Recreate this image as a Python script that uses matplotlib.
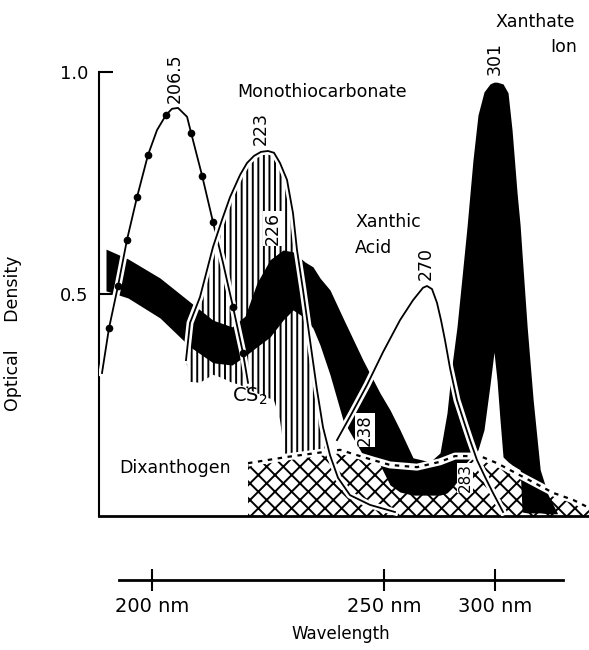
import numpy as np
import matplotlib
matplotlib.use('Agg')
import matplotlib.pyplot as plt
import matplotlib.patheffects as pe

# hand-drawn wavelength axis: nm -> position along the drawing (not linear)
scale_nm = [180, 206.5, 223, 226, 238, 250, 270, 283, 301, 350]
scale_pos = [72, 178, 261, 280, 360, 384, 427, 463, 497, 590]

# CS2 (dotted curve, max 206.5 nm)
cs2_nm = [187.5, 189.25, 191.5, 193.75, 196.25, 199.0, 201.25, 203.5, 205.0, 206.5,
          208.3, 209.1, 211.3, 213.46, 215.45, 217.43, 219.42, 220.42]
cs2_od = [0.322, 0.423, 0.518, 0.622, 0.718, 0.813, 0.869, 0.903, 0.917, 0.919,
          0.899, 0.863, 0.766, 0.662, 0.570, 0.471, 0.367, 0.300]
cs2_dots = [1, 2, 3, 4, 5, 7, 11, 12, 13, 15, 16]

# monothiocarbonate (hatched, max 223 nm)
mono_nm = [208.09, 208.89, 210.87, 213.46, 215.25, 216.84, 218.83, 220.22, 221.61, 223.0,
           224.1, 225.05, 226.0, 227.05, 227.95, 228.55, 229.45, 230.5, 231.55, 232.45,
           233.5, 234.7, 236.5, 243.0, 255.1]
mono_od = [0.351, 0.435, 0.493, 0.606, 0.667, 0.718, 0.768, 0.795, 0.811, 0.820,
           0.822, 0.818, 0.795, 0.757, 0.682, 0.599, 0.509, 0.396, 0.284, 0.200,
           0.137, 0.086, 0.047, 0.025, 0.009]
mono_floor = [0.351, 0.302, 0.300, 0.318, 0.311, 0.302, 0.295, 0.288, 0.279, 0.273,
              0.266, 0.261, 0.216, 0.104, 0.0, 0.0, 0.0, 0.0, 0.0, 0.0,
              0.0, 0.086, 0.047, 0.025, 0.009]

# black band: 226 nm band running into the xanthate ion peak at 301 nm
band_nm = [188.5, 194.0, 202.0, 208.89, 213.46, 217.24, 219.82, 222.2, 224.42, 226.45,
           227.95, 229.75, 230.95, 232.0, 233.5, 235.45, 239.5, 248.0, 252.79, 257.44,
           263.49, 271.08, 274.69, 277.22, 279.03, 280.83, 282.64, 285.12, 288.29, 290.94,
           294.12, 297.29, 299.41, 301.0, 302.59, 304.18, 306.82, 308.94, 311.59, 313.18,
           314.24, 316.89, 320.06, 323.77, 328.0, 332.77]
band_top = [0.601, 0.579, 0.536, 0.482, 0.441, 0.426, 0.450, 0.525, 0.577, 0.599,
            0.595, 0.572, 0.561, 0.536, 0.509, 0.446, 0.351, 0.277, 0.239, 0.194,
            0.131, 0.122, 0.142, 0.232, 0.340, 0.426, 0.538, 0.651, 0.802, 0.903,
            0.955, 0.973, 0.977, 0.977, 0.975, 0.973, 0.953, 0.869, 0.727, 0.655,
            0.588, 0.426, 0.261, 0.104, 0.047, 0.007]
band_bot = [0.507, 0.491, 0.446, 0.381, 0.345, 0.340, 0.360, 0.381, 0.403, 0.441,
            0.464, 0.446, 0.423, 0.385, 0.318, 0.216, 0.137, 0.115, 0.070, 0.054,
            0.047, 0.047, 0.047, 0.052, 0.063, 0.077, 0.104, 0.122, 0.137, 0.149,
            0.194, 0.295, 0.369, 0.306, 0.216, 0.133, 0.122, 0.115, 0.108, 0.104,
            0.009, 0.007, 0.007, 0.007, 0.005, 0.005]

# xanthic acid (max 270 nm)
xa_nm = [234.55, 236.8, 241.5, 249.5, 257.44, 263.49, 268.14, 270.0, 271.81, 273.61,
         275.06, 276.5, 278.31, 280.83, 284.06, 286.71, 290.41, 294.65, 298.88, 304.18]
xa_od = [0.171, 0.232, 0.295, 0.369, 0.441, 0.486, 0.514, 0.518, 0.511, 0.480,
         0.441, 0.396, 0.333, 0.261, 0.205, 0.171, 0.126, 0.088, 0.052, 0.009]

# dixanthogen (cross-hatched)
dix_nm = [220.42, 227.05, 231.55, 235.0, 237.55, 244.5, 252.79, 265.35, 274.69, 280.11,
          292.0, 301.0, 314.76, 330.65, 341.24, 349.7]
dix_od = [0.119, 0.133, 0.142, 0.149, 0.137, 0.126, 0.115, 0.110, 0.122, 0.135,
          0.135, 0.119, 0.088, 0.052, 0.036, 0.018]

wl_ticks = [200, 250, 300]


def fwd(x):
    return np.interp(x, scale_nm, scale_pos)


def inv(p):
    return np.interp(p, scale_pos, scale_nm)


plt.rcParams['font.family'] = 'DejaVu Sans'
plt.rcParams['hatch.linewidth'] = 1.4

fig = plt.figure(figsize=(5.89, 6.5), dpi=100)
ax = fig.add_axes([99/589, 134/650, 491/589, 516/650])
ax.set_xscale('function', functions=(fwd, inv))
ax.set_xlim(186.75, 350)
ax.set_ylim(0, 1.162)

halo = [pe.withStroke(linewidth=5, foreground='white')]

ax.fill_between(mono_nm, mono_floor, mono_od, facecolor='white', edgecolor='black',
                hatch='|||', linewidth=0, zorder=1)
ax.fill_between(dix_nm, 0, dix_od, facecolor='white', edgecolor='black',
                hatch='xx', linewidth=0, zorder=2)
ax.fill_between(band_nm, band_bot, band_top, color='black', linewidth=0, zorder=3)

ax.plot(dix_nm, dix_od, color='white', lw=5, zorder=4, solid_capstyle='butt')
ax.plot(dix_nm, dix_od, color='black', lw=1.6, ls=(0, (2, 2.5)), zorder=4.1)

ax.plot(cs2_nm, cs2_od, color='black', lw=1.3, path_effects=halo, zorder=5)
ax.plot(np.array(cs2_nm)[cs2_dots], np.array(cs2_od)[cs2_dots], 'o', color='black',
        ms=4.5, zorder=5.1)
ax.plot(mono_nm, mono_od, color='black', lw=1.3, path_effects=halo, zorder=5)
ax.plot(xa_nm, xa_od, color='black', lw=1.3, path_effects=halo, zorder=5)

# peak labels
peaks = [('206.5', 206.5, cs2_nm, cs2_od, -2, 3.6),
         ('223', 223.0, mono_nm, mono_od, 0, 5),
         ('226', 226.0, band_nm, band_top, -5, 5),
         ('270', 270.0, xa_nm, xa_od, -1, 4.3),
         ('301', 301.0, band_nm, band_top, -1.5, 5)]
for lbl, pk, xs, ys, dx, dy in peaks:
    ax.annotate(lbl, (pk, np.interp(pk, xs, ys)), xytext=(dx, dy),
                textcoords='offset points', rotation=90, ha='center', va='bottom',
                fontsize=12.5, zorder=6,
                bbox=dict(facecolor='white', edgecolor='none', pad=0.5))

ax.text(240.5, 0.194, '238', rotation=90, ha='center', va='center', fontsize=12,
        zorder=6, bbox=dict(facecolor='white', edgecolor='none', pad=1))
ax.text(284.06, 0.086, '283', rotation=90, ha='center', va='center', fontsize=11,
        zorder=6, bbox=dict(facecolor='white', edgecolor='none', pad=0.5))

ax.text(218.23, 0.955, 'Monothiocarbonate', ha='left', va='center', fontsize=12.5)
ax.text(321.1, 1.113, 'Xanthate', ha='center', va='center', fontsize=12.5)
ax.text(343.35, 1.056, 'Ion', ha='right', va='center', fontsize=12.5)
ax.text(237.25, 0.662, 'Xanthic', ha='left', va='center', fontsize=12.5)
ax.text(237.25, 0.604, 'Acid', ha='left', va='center', fontsize=12.5)
ax.text(217.24, 0.257, 'CS$_2$', ha='left', va='baseline', fontsize=14)
ax.text(205.75, 0.108, 'Dixanthogen', ha='center', va='center', fontsize=12.5)

for s in ['top', 'right']:
    ax.spines[s].set_visible(False)
ax.spines['left'].set_bounds(0, 1.0)
ax.spines['left'].set_linewidth(1.5)
ax.spines['bottom'].set_linewidth(2)
ax.set_yticks([0.5, 1.0], ['0.5', '1.0'])
ax.tick_params(axis='y', direction='in', length=10, width=1.5, labelsize=13, pad=8)
ax.tick_params(axis='x', which='both', length=0, labelbottom=False)
ax.set_ylabel('Optical     Density', fontsize=12.5)
ax.yaxis.set_label_coords(-0.157, 0.355)
ax.patch.set_visible(False)

# separate wavelength scale under the plot
ax2 = fig.add_axes([119/589, 70/650, 444/589, 0.01])
ax2.set_xscale('function', functions=(fwd, inv))
ax2.set_xlim(191.75, 335.94)
ax2.set_xticks(wl_ticks, [f'{t} nm' for t in wl_ticks])
ax2.minorticks_off()
ax2.set_yticks([])
for s in ['left', 'right', 'top']:
    ax2.spines[s].set_visible(False)
ax2.spines['bottom'].set_linewidth(2)
ax2.tick_params(axis='x', direction='inout', length=16, width=1.5, labelsize=14, pad=4)
ax2.set_xlabel('Wavelength', fontsize=12, labelpad=7)
ax2.patch.set_visible(False)

fig.savefig('out.png', dpi=100)
